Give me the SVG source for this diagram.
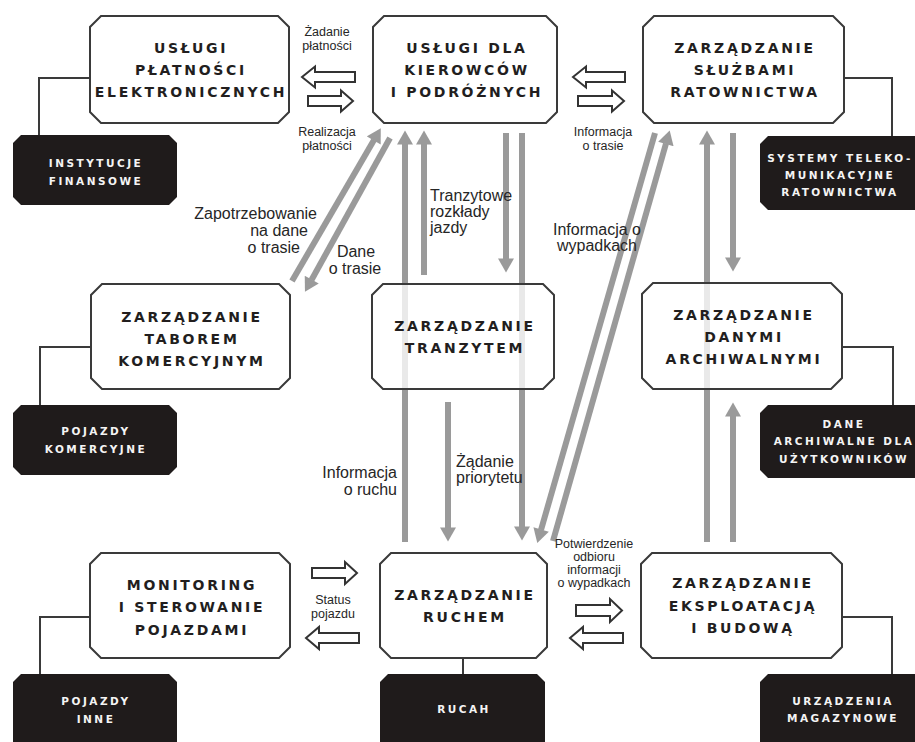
<svg xmlns="http://www.w3.org/2000/svg" width="915" height="742" viewBox="0 0 915 742">
<style>
.bg{fill:#fff}
.node{fill:#fff;fill-opacity:0.78;stroke:#3a3a3a;stroke-width:2}
.dark{fill:#1f1b1b;stroke:none}
.tie{fill:none;stroke:#3a3a3a;stroke-width:2}
.t{font-family:"DejaVu Sans","Liberation Sans",sans-serif;font-weight:bold;font-size:14px;letter-spacing:2.7px;fill:#221e1e;text-anchor:middle}
.dt{font-family:"DejaVu Sans","Liberation Sans",sans-serif;font-weight:bold;font-size:10.5px;letter-spacing:2.5px;fill:#f4f4f4;text-anchor:middle}
.flow{fill:none;stroke:#9a9a9a;stroke-width:6}
.blk{fill:#fff;stroke:#333;stroke-width:2;stroke-linejoin:miter}
.l{font-family:"Liberation Sans",Arial,sans-serif;font-size:12.5px;fill:#262626}
.m{font-family:"Liberation Sans",Arial,sans-serif;font-size:16px;fill:#262626}
</style>
<defs>
<marker id="ah" markerUnits="userSpaceOnUse" markerWidth="16" markerHeight="16" viewBox="0 0 14 16" refX="0.5" refY="8" orient="auto">
<path d="M0,0 L14,8 L0,16 z" fill="#9a9a9a"/>
</marker>
</defs>
<rect class="bg" x="0" y="0" width="915" height="742"/>

<g id="connectors">
<line class="flow" x1="292" y1="281" x2="374" y2="140" marker-end="url(#ah)"/>
<line class="flow" x1="390" y1="138" x2="311.5" y2="280" marker-end="url(#ah)"/>
<line class="flow" x1="405" y1="542" x2="405" y2="144" marker-end="url(#ah)"/>
<line class="flow" x1="424" y1="275" x2="424" y2="144" marker-end="url(#ah)"/>
<line class="flow" x1="506" y1="133" x2="506" y2="259" marker-end="url(#ah)"/>
<line class="flow" x1="522" y1="133" x2="522" y2="527" marker-end="url(#ah)"/>
<line class="flow" x1="448" y1="402" x2="448" y2="528" marker-end="url(#ah)"/>
<line class="flow" x1="655" y1="133" x2="541" y2="530" marker-end="url(#ah)"/>
<line class="flow" x1="553" y1="541" x2="666" y2="143.5" marker-end="url(#ah)"/>
<line class="flow" x1="707" y1="542" x2="707" y2="144" marker-end="url(#ah)"/>
<line class="flow" x1="733" y1="133" x2="733" y2="258" marker-end="url(#ah)"/>
<line class="flow" x1="733" y1="542" x2="733" y2="416" marker-end="url(#ah)"/>
<polyline class="tie" points="90,78 39,78 39,136"/>
<polyline class="tie" points="844,78 892,78 892,137"/>
<polyline class="tie" points="91,347 40,347 40,406"/>
<polyline class="tie" points="842,347 893,347 893,406"/>
<polyline class="tie" points="90,617 40,617 40,675"/>
<line class="tie" x1="463" y1="658" x2="463" y2="675"/>
<polyline class="tie" points="842,617 892,617 892,675"/>
<polygon class="blk" points="302,77 315,66.5 315,72 355,72 355,82 315,82 315,87.5"/>
<polygon class="blk" points="308,96 341,96 341,90.5 353,101 341,111.5 341,106 308,106"/>
<polygon class="blk" points="573,77 586,66.5 586,72 625,72 625,82 586,82 586,87.5"/>
<polygon class="blk" points="578,96 612,96 612,90.5 624,101 612,111.5 612,106 578,106"/>
<polygon class="blk" points="312,568 345,568 345,562 357,573 345,584 345,578 312,578"/>
<polygon class="blk" points="306,638 319,627 319,633 359,633 359,643 319,643 319,649"/>
<polygon class="blk" points="576,605 610,605 610,599 622,610.5 610,622 610,616 576,616"/>
<polygon class="blk" points="570,638 583,627 583,633 623,633 623,643 583,643 583,649"/>
</g>

<g id="labels">
<text class="l" text-anchor="middle"><tspan x="327" y="36">Żadanie</tspan><tspan x="327" y="50">płatności</tspan></text>
<text class="l" text-anchor="middle"><tspan x="327" y="136">Realizacja</tspan><tspan x="327" y="150">płatności</tspan></text>
<text class="l" text-anchor="middle"><tspan x="603" y="136">Informacja</tspan><tspan x="603" y="150">o trasie</tspan></text>
<text class="m" text-anchor="end"><tspan x="317" y="219">Zapotrzebowanie</tspan><tspan x="308" y="236">na dane</tspan><tspan x="300" y="253">o trasie</tspan></text>
<text class="m" text-anchor="middle"><tspan x="356" y="257">Dane</tspan><tspan x="355" y="274">o trasie</tspan></text>
<text class="m"><tspan x="430" y="201">Tranzytowe</tspan><tspan x="430" y="217">rozkłady</tspan><tspan x="430" y="233">jazdy</tspan></text>
<text class="m" text-anchor="middle"><tspan x="597" y="235">Informacja o</tspan><tspan x="597" y="251">wypadkach</tspan></text>
<text class="m" text-anchor="end"><tspan x="397" y="478">Informacja</tspan><tspan x="397" y="495">o ruchu</tspan></text>
<text class="m"><tspan x="456" y="467">Żądanie</tspan><tspan x="456" y="483">priorytetu</tspan></text>
<text class="l" text-anchor="middle"><tspan x="333" y="604">Status</tspan><tspan x="333" y="618">pojazdu</tspan></text>
<text class="l" text-anchor="middle"><tspan x="594" y="548">Potwierdzenie</tspan><tspan x="594" y="561">odbioru</tspan><tspan x="594" y="574">informacji</tspan><tspan x="594" y="587">o wypadkach</tspan></text>
</g>

<g id="n-platnosci">
<path class="node" d="M101,16 H278 L289,27 V112 L278,123 H101 L90,112 V27 Z"/>
<text class="t"><tspan x="191" y="53">USŁUGI</tspan><tspan x="191" y="75">PŁATNOŚCI</tspan><tspan x="191" y="97">ELEKTRONICZNYCH</tspan></text>
</g>
<g id="n-kierowcy">
<path class="node" d="M384,16 H546 L557,27 V112 L546,123 H384 L373,112 V27 Z"/>
<text class="t"><tspan x="467" y="53">USŁUGI DLA</tspan><tspan x="467" y="75">KIEROWCÓW</tspan><tspan x="467" y="97">I PODRÓŻNYCH</tspan></text>
</g>
<g id="n-ratownictwo">
<path class="node" d="M654,16 H833 L844,27 V112 L833,123 H654 L643,112 V27 Z"/>
<text class="t"><tspan x="745" y="53">ZARZĄDZANIE</tspan><tspan x="745" y="75">SŁUŻBAMI</tspan><tspan x="745" y="97">RATOWNICTWA</tspan></text>
</g>
<g id="n-tabor">
<path class="node" d="M102,284 H279 L290,295 V378 L279,389 H102 L91,378 V295 Z"/>
<text class="t"><tspan x="192" y="322">ZARZĄDZANIE</tspan><tspan x="192" y="344">TABOREM</tspan><tspan x="192" y="366">KOMERCYJNYM</tspan></text>
</g>
<g id="n-tranzyt">
<path class="node" d="M383,284 H543 L554,295 V378 L543,389 H383 L372,378 V295 Z"/>
<text class="t"><tspan x="465" y="331">ZARZĄDZANIE</tspan><tspan x="465" y="353">TRANZYTEM</tspan></text>
</g>
<g id="n-archiwum">
<path class="node" d="M653,283 H831 L842,294 V378 L831,389 H653 L642,378 V294 Z"/>
<text class="t"><tspan x="744" y="320">ZARZĄDZANIE</tspan><tspan x="744" y="342">DANYMI</tspan><tspan x="744" y="364">ARCHIWALNYMI</tspan></text>
</g>
<g id="n-monitoring">
<path class="node" d="M101,553 H279 L290,564 V647 L279,658 H101 L90,647 V564 Z"/>
<text class="t"><tspan x="192" y="590">MONITORING</tspan><tspan x="192" y="612">I STEROWANIE</tspan><tspan x="192" y="635">POJAZDAMI</tspan></text>
</g>
<g id="n-ruch">
<path class="node" d="M391,553 H536 L547,564 V647 L536,658 H391 L380,647 V564 Z"/>
<text class="t"><tspan x="465" y="600">ZARZĄDZANIE</tspan><tspan x="465" y="622">RUCHEM</tspan></text>
</g>
<g id="n-eksploatacja">
<path class="node" d="M652,553 H831 L842,564 V647 L831,658 H652 L641,647 V564 Z"/>
<text class="t"><tspan x="743" y="588">ZARZĄDZANIE</tspan><tspan x="743" y="611">EKSPLOATACJĄ</tspan><tspan x="743" y="633">I BUDOWĄ</tspan></text>
</g>

<g id="e-finanse">
<path class="dark" d="M21,135 H169 L177,143 V197 L169,205 H21 L13,197 V143 Z"/>
<text class="dt"><tspan x="96" y="167">INSTYTUCJE</tspan><tspan x="96" y="185">FINANSOWE</tspan></text>
</g>
<g id="e-telekom">
<path class="dark" d="M768,136 H920 V210 H768 L760,202 V144 Z"/>
<text class="dt"><tspan x="840" y="162">SYSTEMY TELEKO-</tspan><tspan x="840" y="179">MUNIKACYJNE</tspan><tspan x="840" y="196">RATOWNICTWA</tspan></text>
</g>
<g id="e-komercyjne">
<path class="dark" d="M21,405 H169 L177,413 V467 L169,475 H21 L13,467 V413 Z"/>
<text class="dt"><tspan x="96" y="435">POJAZDY</tspan><tspan x="96" y="453">KOMERCYJNE</tspan></text>
</g>
<g id="e-archiwalne">
<path class="dark" d="M768,405 H920 V478 H768 L760,470 V413 Z"/>
<text class="dt"><tspan x="844" y="428">DANE</tspan><tspan x="844" y="445">ARCHIWALNE DLA</tspan><tspan x="844" y="463">UŻYTKOWNIKÓW</tspan></text>
</g>
<g id="e-inne">
<path class="dark" d="M21,674 H169 L177,682 V745 H13 V682 Z"/>
<text class="dt"><tspan x="96" y="705">POJAZDY</tspan><tspan x="96" y="723">INNE</tspan></text>
</g>
<g id="e-rucah">
<path class="dark" d="M388,674 H537 L545,682 V745 H380 V682 Z"/>
<text class="dt"><tspan x="464" y="713">RUCAH</tspan></text>
</g>
<g id="e-magazynowe">
<path class="dark" d="M768,674 H920 V745 H760 V682 Z"/>
<text class="dt"><tspan x="843" y="705">URZĄDZENIA</tspan><tspan x="843" y="722">MAGAZYNOWE</tspan></text>
</g>
</svg>
